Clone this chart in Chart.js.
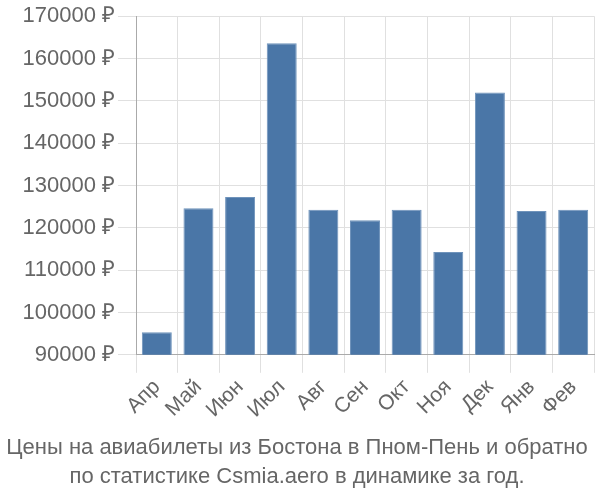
<!DOCTYPE html>
<html><head><meta charset="utf-8">
<script src="https://cdn.jsdelivr.net/npm/chart.js@4/dist/chart.umd.min.js"></script>
<style>html,body{margin:0;padding:0;background:#fff}#w{width:600px;height:500px}</style>
</head><body><div id="w"><canvas id="c"></canvas></div>
<script>
const categories = ["Апр","Май","Июн","Июл","Авг","Сен","Окт","Ноя","Дек","Янв","Фев"];
const prices = [95300, 124600, 127300, 163600, 124300, 121800, 124300, 114300, 152000, 124000, 124300];
const yTicks = [90000,100000,110000,120000,130000,140000,150000,160000,170000];
const titleLines = ["Цены на авиабилеты из Бостона в Пном-Пень и обратно","по статистике Csmia.aero в динамике за год."];

new Chart(document.getElementById('c'), {
  type: 'bar',
  data: { labels: categories, datasets: [{ data: prices, backgroundColor: '#4a76a7', borderColor: '#6f93bb', borderWidth: 1 }] },
  options: {
    responsive: true, maintainAspectRatio: false, animation: false,
    layout: { padding: { left: 0, right: 6, top: 4, bottom: 0 } },
    plugins: {
      legend: { display: false }, tooltip: { enabled: false },
      title: { display: true, position: 'bottom', text: titleLines, color: '#666',
        font: { family: 'Liberation Sans, Arial', size: 22, weight: 'normal', lineHeight: 1.3 }, padding: { top: 10, bottom: 9 } }
    },
    scales: {
      x: { grid: { color: '#e0e0e0', lineWidth: 1, tickLength: 18, offset: true },
           border: { color: '#aaa' },
           afterFit: (ax) => { ax.height = 69; },
           ticks: { color: '#666', maxRotation: 45, minRotation: 45, padding: 2, font: { family: 'Liberation Sans, Arial', size: 21 } } },
      y: { min: 90000, max: 170000,
           afterBuildTicks: (ax) => { ax.ticks = yTicks.map(v => ({ value: v })); },
           afterFit: (ax) => { ax.width = 136; },
           grid: { color: '#e0e0e0', lineWidth: 1, tickLength: 18 },
           border: { color: '#aaa' },
           ticks: { color: '#666', padding: 3, font: { family: 'Liberation Sans, Arial', size: 22 }, callback: v => v + ' ₽' } }
    }
  }
});
</script></body></html>
